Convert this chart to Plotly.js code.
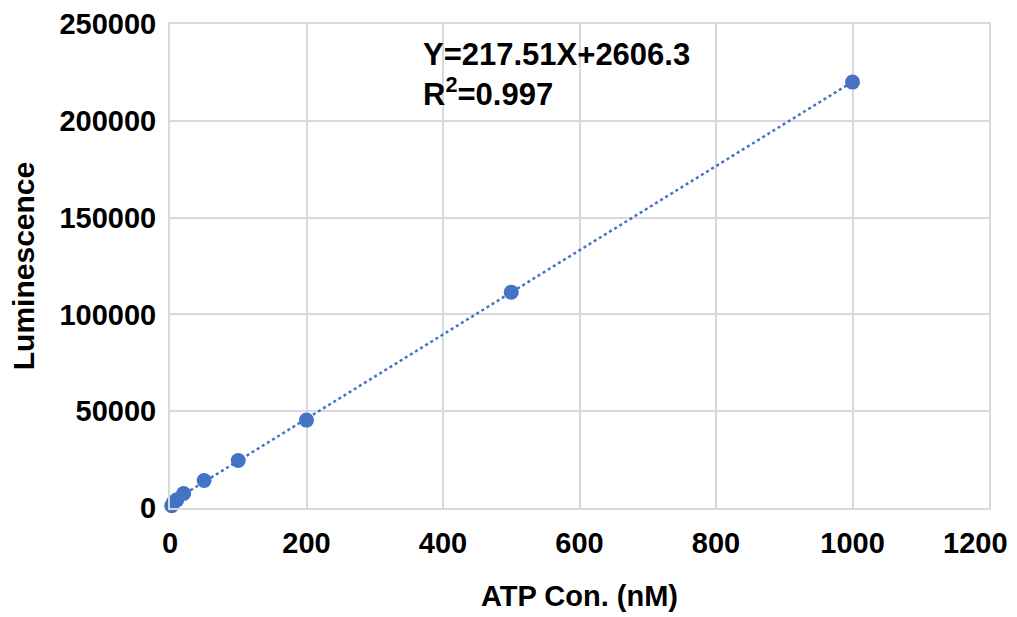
<!DOCTYPE html>
<html>
<head>
<meta charset="utf-8">
<script src="https://cdn.plot.ly/plotly-3.0.1.min.js"></script>
<style>
  html, body { margin: 0; padding: 0; background: #fff; }
  #chart { width: 1017px; height: 617px; }
</style>
</head>
<body>
<div id="chart"></div>
<script>
// Data
const atpConc = [0, 2.5, 5, 10, 20, 50, 100, 200, 500, 1000];
const luminescence = [-1000, 1200, 2800, 4200, 7500, 14200, 24500, 45400, 111500, 220000];

// Trendline as printed on the chart
const slope = 217.51;
const intercept = 2606.3;
const r2 = 0.997;

const xTicks = [0, 200, 400, 600, 800, 1000, 1200];
const yTicks = [0, 50000, 100000, 150000, 200000, 250000];

const blue = '#4472C4';
const grid = '#d9d9d9';
const font = 'Liberation Sans, Arial, sans-serif';
const tickFont = { family: font, size: 29, color: '#000', weight: 'bold' };

const xMin = Math.min(...atpConc), xMax = Math.max(...atpConc);
const trendX = [xMin, xMax];
const trendY = trendX.map(x => slope * x + intercept);

// last x tick label is pulled inside the page (as in the reference), drawn as an annotation;
// its grid line is the plot frame's right edge
const lastX = xTicks[xTicks.length - 1];
const axisXTicks = xTicks.slice(0, -1);

const traces = [
  {
    x: trendX, y: trendY, type: 'scatter', mode: 'lines',
    line: { color: blue, width: 2.5, dash: 'dot' },
    hoverinfo: 'skip', cliponaxis: false, showlegend: false
  },
  {
    x: atpConc, y: luminescence, type: 'scatter', mode: 'markers',
    marker: { color: blue, size: 15 },
    cliponaxis: false, showlegend: false
  }
];

const layout = {
  width: 1017, height: 617,
  margin: { l: 170, r: 28, t: 24, b: 109 },
  paper_bgcolor: '#fff', plot_bgcolor: '#fff',
  font: { family: font, color: '#000' },
  xaxis: {
    range: [0, lastX], tickvals: axisXTicks, ticktext: axisXTicks.map(String),
    showgrid: true, gridcolor: grid, gridwidth: 2,
    zeroline: false, showline: true, linecolor: grid, linewidth: 2, mirror: true,
    ticks: '', ticklabelstandoff: 8,
    tickfont: tickFont,
    title: { text: 'ATP Con. (nM)', standoff: 28,
             font: { family: font, size: 29, color: '#000', weight: 'bold' } }
  },
  yaxis: {
    range: [0, 250000], tickvals: yTicks, ticktext: yTicks.map(String),
    showgrid: true, gridcolor: grid, gridwidth: 2,
    zeroline: false, showline: true, linecolor: grid, linewidth: 2, mirror: true,
    ticks: '', ticklabelstandoff: 6,
    tickfont: tickFont,
    title: { text: 'Luminescence', standoff: 16,
             font: { family: font, size: 30, color: '#000', weight: 'bold' } }
  },
  annotations: [
    {
      xref: 'paper', yref: 'paper', x: 0.307, y: 0.978, xanchor: 'left', yanchor: 'top',
      align: 'left', showarrow: false,
      text: 'Y=' + slope + 'X+' + intercept + '<br>R<sup>2</sup>=' + r2,
      font: { family: font, size: 31, color: '#000', weight: 'bold' }
    },
    {
      xref: 'x', yref: 'paper', x: lastX, y: 0, xanchor: 'right', yanchor: 'top',
      xshift: 21, yshift: -17, showarrow: false, text: String(lastX),
      font: tickFont
    }
  ]
};

Plotly.newPlot('chart', traces, layout, { displayModeBar: false, staticPlot: true });
</script>
</body>
</html>
